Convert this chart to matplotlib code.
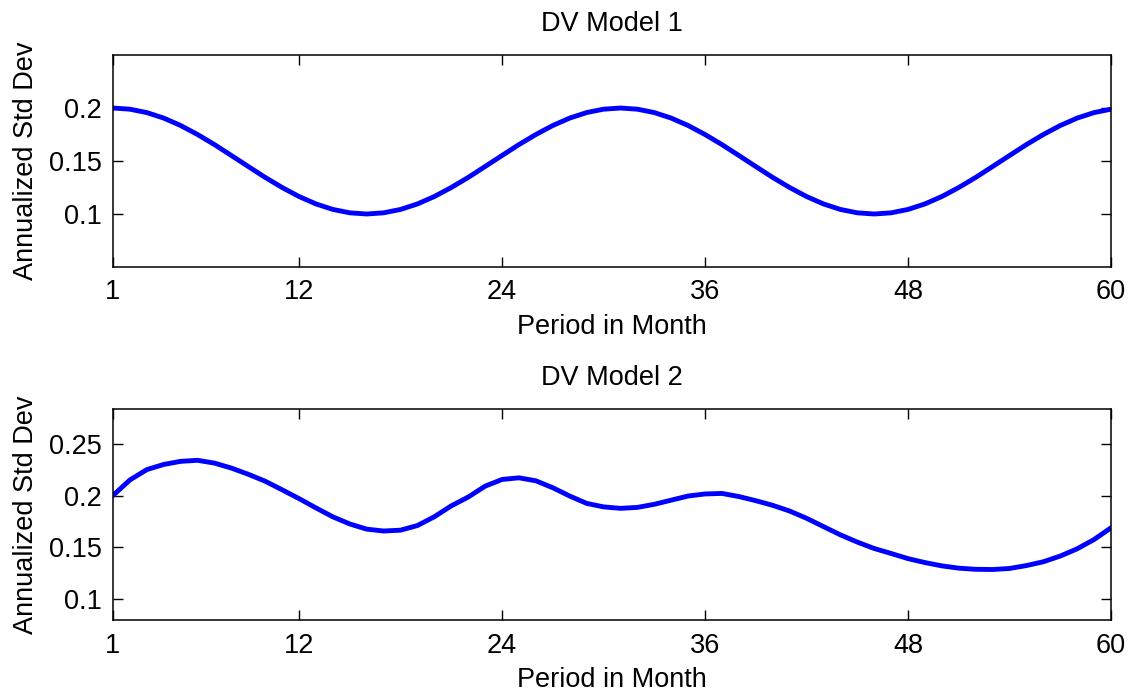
import matplotlib
matplotlib.use('Agg')
import matplotlib.pyplot as plt

plt.rcParams['font.family'] = ['Liberation Sans', 'DejaVu Sans']

months = list(range(1, 61))

# DV Model 1 - annualized std dev per month
model1 = [0.2000, 0.1989, 0.1957, 0.1905, 0.1835, 0.1750, 0.1655, 0.1552, 0.1448, 0.1345,
          0.1250, 0.1165, 0.1095, 0.1043, 0.1011, 0.1000, 0.1011, 0.1043, 0.1095, 0.1165,
          0.1250, 0.1345, 0.1448, 0.1552, 0.1655, 0.1750, 0.1835, 0.1905, 0.1957, 0.1989,
          0.2000, 0.1989, 0.1957, 0.1905, 0.1835, 0.1750, 0.1655, 0.1552, 0.1448, 0.1345,
          0.1250, 0.1165, 0.1095, 0.1043, 0.1011, 0.1000, 0.1011, 0.1043, 0.1095, 0.1165,
          0.1250, 0.1345, 0.1448, 0.1552, 0.1655, 0.1750, 0.1835, 0.1905, 0.1957, 0.1989]

# DV Model 2
model2 = [0.2000, 0.2150, 0.2250, 0.2300, 0.2330, 0.2340, 0.2313, 0.2265, 0.2205, 0.2138,
          0.2055, 0.1970, 0.1880, 0.1794, 0.1725, 0.1675, 0.1657, 0.1665, 0.1710, 0.1795,
          0.1900, 0.1985, 0.2090, 0.2155, 0.2171, 0.2142, 0.2075, 0.1995, 0.1924, 0.1890,
          0.1876, 0.1885, 0.1915, 0.1955, 0.1995, 0.2015, 0.2020, 0.1990, 0.1950, 0.1905,
          0.1850, 0.1780, 0.1700, 0.1620, 0.1550, 0.1488, 0.1440, 0.1390, 0.1352, 0.1320,
          0.1298, 0.1287, 0.1285, 0.1295, 0.1323, 0.1360, 0.1415, 0.1485, 0.1575, 0.1688]

xticks = [1, 12, 24, 36, 48, 60]

fig = plt.figure(figsize=(11.33, 6.94), dpi=100)
ax1 = fig.add_axes([0.0997, 0.6153, 0.8809, 0.3054])
ax2 = fig.add_axes([0.0997, 0.1066, 0.8809, 0.3041])

panels = [
    (ax1, model1, 'DV Model 1', (0.05, 0.25), [0.1, 0.15, 0.2]),
    (ax2, model2, 'DV Model 2', (0.0797, 0.2836), [0.1, 0.15, 0.2, 0.25]),
]

fs = 19.5
for ax, vals, title, ylim, yticks in panels:
    ax.plot(months, vals, color='#0000ff', linewidth=3.5)
    ax.set_xlim(1, 60)
    ax.set_ylim(*ylim)
    ax.set_xticks(xticks)
    ax.set_xticklabels([str(t) for t in xticks])
    ax.set_yticks(yticks)
    ax.set_yticklabels([('%g' % v) for v in yticks])
    ax.tick_params(direction='in', top=True, right=True, length=7, width=1,
                   labelsize=fs, colors='black')
    ax.tick_params(axis='x', pad=9)
    ax.tick_params(axis='y', pad=8)
    for s in ax.spines.values():
        s.set_linewidth(1.1)
    ax.set_title(title, fontsize=fs, pad=17)
    ax.set_xlabel('Period in Month', fontsize=fs, labelpad=6)
    ax.set_ylabel('Annualized Std Dev', fontsize=fs, labelpad=7)

fig.savefig('out.png', dpi=100)
